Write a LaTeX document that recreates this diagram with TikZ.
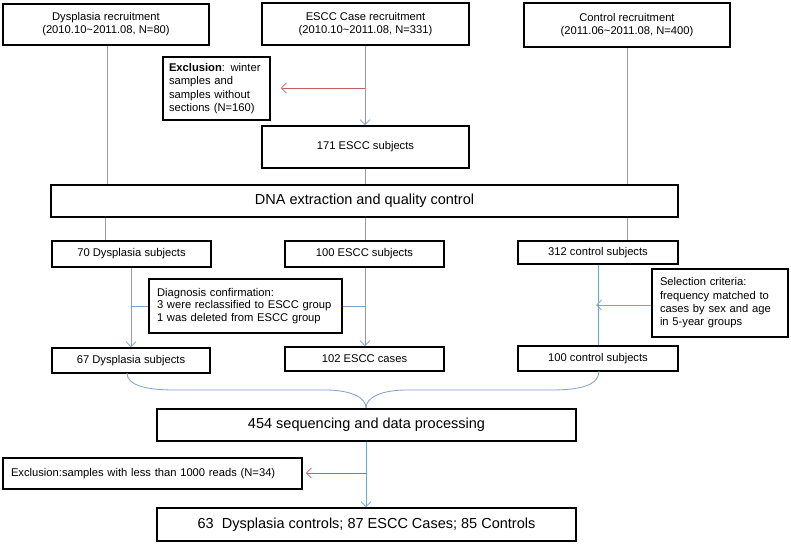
\documentclass[tikz,border=0pt]{standalone}
\usepackage{fontspec}
\setmainfont{Liberation Sans}
\usetikzlibrary{arrows.meta}
\definecolor{lineblue}{RGB}{125,160,205}
\definecolor{linered}{RGB}{200,95,95}
\begin{document}
\begin{tikzpicture}[x=1pt,y=-1pt,
  box/.style={draw=black,line width=1.6pt,inner sep=0pt,align=center,font=\fontsize{11.2}{13}\selectfont},
  bigbox/.style={box,font=\fontsize{14.5}{17}\selectfont},
  lbox/.style={draw=black,line width=1.6pt,inner xsep=8pt,inner ysep=0pt,align=left},
  conn/.style={draw=lineblue,line width=0.8pt},
  arr/.style={conn,-{Straight Barb[length=5pt,width=10pt,line width=0.8pt]}},
  rarr/.style={draw=linered,line width=0.8pt,-{Straight Barb[length=5pt,width=10pt,line width=0.8pt]}}
]
\useasboundingbox (0,0) rectangle (791,544);
% boxes
\node[box,minimum width=206pt,minimum height=41pt] (drec) at (106,24.5) {Dysplasia recruitment\\(2010.10\textasciitilde2011.08, N=80)};
\node[box,minimum width=207pt,minimum height=42pt] (erec) at (365.5,24) {ESCC Case recruitment\\(2010.10\textasciitilde2011.08, N=331)};
\node[box,minimum width=206pt,minimum height=44pt] (crec) at (627,25) {Control recruitment\\(2011.06\textasciitilde2011.08, N=400)};
\node[lbox,inner xsep=6pt,text width=95pt,minimum height=63pt,font=\fontsize{11.2}{13.3}\selectfont] (excl) at (216.5,88.5) {\mbox{\textbf{Exclusion}: winter}\\samples and\\samples without\\sections (N=160)};
\node[box,minimum width=207pt,minimum height=42pt] (s171) at (365.5,147) {171 ESCC subjects};
\node[bigbox,minimum width=627pt,minimum height=32pt] (dna) at (364.5,201) {DNA extraction and quality control};
\node[box,minimum width=159pt,minimum height=26pt] (d70) at (131.5,254) {70 Dysplasia subjects};
\node[box,minimum width=159pt,minimum height=26pt] (e100) at (364.5,254) {100 ESCC subjects};
\node[box,minimum width=160pt,minimum height=23pt] (c312) at (598,252.5) {312 control subjects};
\node[lbox,text width=177pt,minimum height=54pt,font=\fontsize{11.2}{12.7}\selectfont] (diag) at (245.5,306) {Diagnosis confirmation:\\3 were reclassified to ESCC group\\1 was deleted from ESCC group};
\node[lbox,text width=120pt,minimum height=68pt,font=\fontsize{11.2}{13.3}\selectfont] (sel) at (720,303) {Selection criteria:\\frequency matched to\\cases by sex and age\\in 5-year groups};
\node[box,minimum width=158pt,minimum height=25pt] (d67) at (131,360.5) {67 Dysplasia subjects};
\node[box,minimum width=159pt,minimum height=24pt] (e102) at (364.5,359) {102 ESCC cases};
\node[box,minimum width=160pt,minimum height=25pt] (c100) at (598,358.5) {100 control subjects};
\node[bigbox,minimum width=419pt,minimum height=32pt] (seq) at (366.5,425) {454 sequencing and data processing};
\node[lbox,text width=283pt,minimum height=31pt,font=\fontsize{11.2}{13}\selectfont] (excl2) at (152.5,473.5) {Exclusion:samples with less than 1000 reads (N=34)};
\node[bigbox,minimum width=419pt,minimum height=33pt] (final) at (366.5,524.5) {63\ \ Dysplasia controls; 87 ESCC Cases; 85 Controls};
% helper coordinates
\coordinate (jE1) at (365,88);
\coordinate (jD) at (131,306);
\coordinate (jE2) at (365,306);
\coordinate (jC) at (598,305);
\coordinate (jS) at (366,473);
\coordinate (bl) at (127,373);
\coordinate (br) at (599,371);
\coordinate (bt) at (366,408);
% connectors
\draw[conn] (drec.south -| 107,0) -- (dna.north -| 107,0);
\draw[arr] (erec.south -| jE1) -- (s171.north -| jE1);
\draw[rarr,shorten >=10pt] (jE1) -- (excl.east |- jE1);
\draw[conn] (s171.south -| jE1) -- (dna.north -| jE1);
\draw[conn] (crec.south) -- (dna.north -| crec.south);
\draw[conn] (dna.south -| 105,0) -- (d70.north -| 105,0);
\draw[conn] (dna.south -| jE1) -- (e100.north -| jE1);
\draw[conn] (dna.south -| crec.south) -- (c312.north -| crec.south);
\draw[arr] (d70.south -| jD) -- (d67.north -| jD);
\draw[arr] (e100.south -| jE2) -- (e102.north -| jE2);
\draw[conn] (diag.west |- jD) -- (jD);
\draw[conn] (diag.east |- jE2) -- (jE2);
\draw[conn] (c312.south -| jC) -- (c100.north -| jC);
\draw[arr,shorten >=-2pt] (sel.west |- jC) -- (jC);
\draw[conn] (bl) .. controls (127,385) and (145,390) .. (175,390) -- (325,390) .. controls (350,390) and (366,397) .. (bt);
\draw[conn] (br) .. controls (599,385) and (581,390) .. (551,390) -- (407,390) .. controls (382,390) and (366,397) .. (bt);
\draw[arr] (seq.south -| jS) -- (final.north -| jS);
\draw[rarr,shorten >=3pt] (jS) -- (excl2.east |- jS);
\end{tikzpicture}
\end{document}
